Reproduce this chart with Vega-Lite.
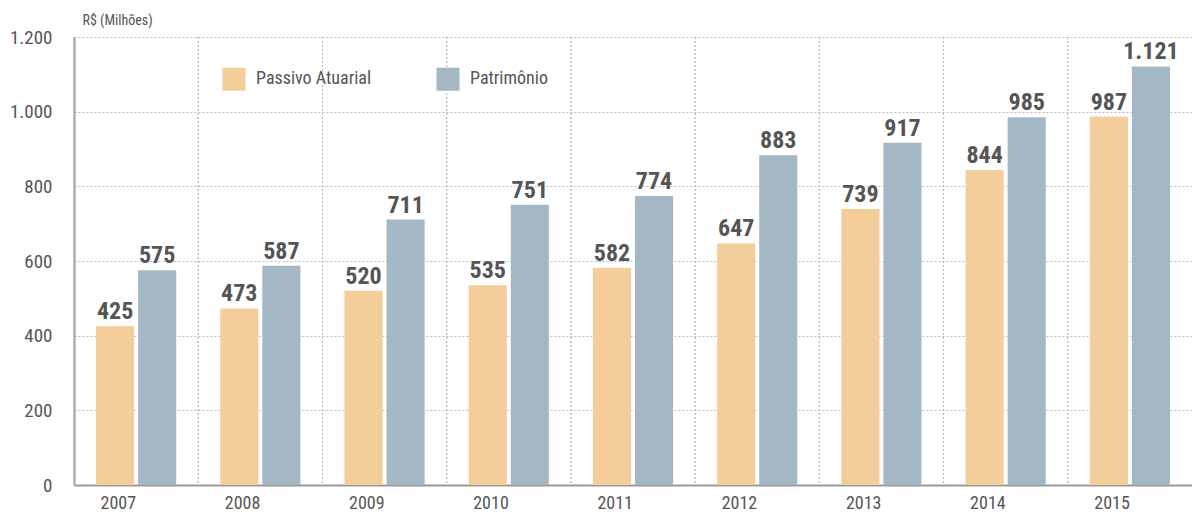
{
  "$schema": "https://vega.github.io/schema/vega-lite/v6.json",
  "width": 1118,
  "height": 448,
  "autosize": {"type": "none"},
  "padding": {"left": 74, "top": 37, "right": 0, "bottom": 30},
  "background": "white",
  "config": {
    "locale": {"number": {"decimal": ",", "thousands": ".", "grouping": [3], "currency": ["R$", ""]}},
    "font": "'Liberation Sans Narrow', 'Roboto Condensed', 'DejaVu Sans Condensed', Roboto",
    "view": {"stroke": null}
  },
  "data": {"values": [
    {"ano": "2007", "serie": "Passivo Atuarial", "valor": 425},
    {"ano": "2007", "serie": "Patrimônio", "valor": 575},
    {"ano": "2008", "serie": "Passivo Atuarial", "valor": 473},
    {"ano": "2008", "serie": "Patrimônio", "valor": 587},
    {"ano": "2009", "serie": "Passivo Atuarial", "valor": 520},
    {"ano": "2009", "serie": "Patrimônio", "valor": 711},
    {"ano": "2010", "serie": "Passivo Atuarial", "valor": 535},
    {"ano": "2010", "serie": "Patrimônio", "valor": 751},
    {"ano": "2011", "serie": "Passivo Atuarial", "valor": 582},
    {"ano": "2011", "serie": "Patrimônio", "valor": 774},
    {"ano": "2012", "serie": "Passivo Atuarial", "valor": 647},
    {"ano": "2012", "serie": "Patrimônio", "valor": 883},
    {"ano": "2013", "serie": "Passivo Atuarial", "valor": 739},
    {"ano": "2013", "serie": "Patrimônio", "valor": 917},
    {"ano": "2014", "serie": "Passivo Atuarial", "valor": 844},
    {"ano": "2014", "serie": "Patrimônio", "valor": 985},
    {"ano": "2015", "serie": "Passivo Atuarial", "valor": 987},
    {"ano": "2015", "serie": "Patrimônio", "valor": 1121}
  ]},
  "layer": [
    {
      "mark": {"type": "rule", "stroke": "#bbbbbb", "strokeDash": [2, 2], "strokeWidth": 1},
      "encoding": {
        "x": {"field": "ano", "type": "nominal", "bandPosition": 0}
      }
    },
    {
      "mark": {"type": "bar"},
      "encoding": {
        "x": {
          "field": "ano", "type": "nominal",
          "scale": {"paddingInner": 0, "paddingOuter": 0},
          "axis": {"title": null, "labelAngle": 0, "ticks": false, "domainColor": "#999999", "domainWidth": 2, "labelFontSize": 18, "labelColor": "#555555", "labelPadding": 18}
        },
        "xOffset": {"field": "serie", "type": "nominal", "scale": {"paddingInner": 0.095, "paddingOuter": 0.524}, "sort": ["Passivo Atuarial", "Patrimônio"]},
        "y": {
          "field": "valor", "type": "quantitative",
          "scale": {"domain": [0, 1200], "nice": false},
          "axis": {
            "title": "R$ (Milhões)", "titleAngle": 0, "titleAlign": "left", "titleBaseline": "bottom", "titleX": 8, "titleY": -10,
            "titleFontSize": 14, "titleFontWeight": "normal", "titleColor": "#555555",
            "values": [0, 200, 400, 600, 800, 1000, 1200], "format": ",d",
            "ticks": false, "grid": true, "gridColor": "#bbbbbb", "gridDash": [2, 2],
            "domainColor": "#999999", "domainWidth": 2,
            "labelFontSize": 19, "labelColor": "#555555", "labelPadding": 22
          }
        },
        "color": {
          "field": "serie", "type": "nominal",
          "scale": {"domain": ["Passivo Atuarial", "Patrimônio"], "range": ["#F3CD9A", "#A3B7C5"]},
          "legend": {
            "title": null, "orient": "none", "direction": "horizontal", "legendX": 148, "legendY": 30,
            "symbolType": "square", "symbolSize": 530, "symbolStrokeWidth": 0, "symbolOpacity": 1,
            "labelFontSize": 18, "labelColor": "#555555", "labelOffset": 10, "columnPadding": 64
          }
        }
      }
    },
    {
      "mark": {"type": "text", "baseline": "bottom", "dy": -2, "fontSize": 24, "fontWeight": "bold", "fill": "#555555"},
      "encoding": {
        "x": {"field": "ano", "type": "nominal"},
        "xOffset": {"field": "serie", "type": "nominal", "sort": ["Passivo Atuarial", "Patrimônio"]},
        "y": {"field": "valor", "type": "quantitative"},
        "text": {"field": "valor", "type": "quantitative", "format": ",d"}
      }
    }
  ]
}
